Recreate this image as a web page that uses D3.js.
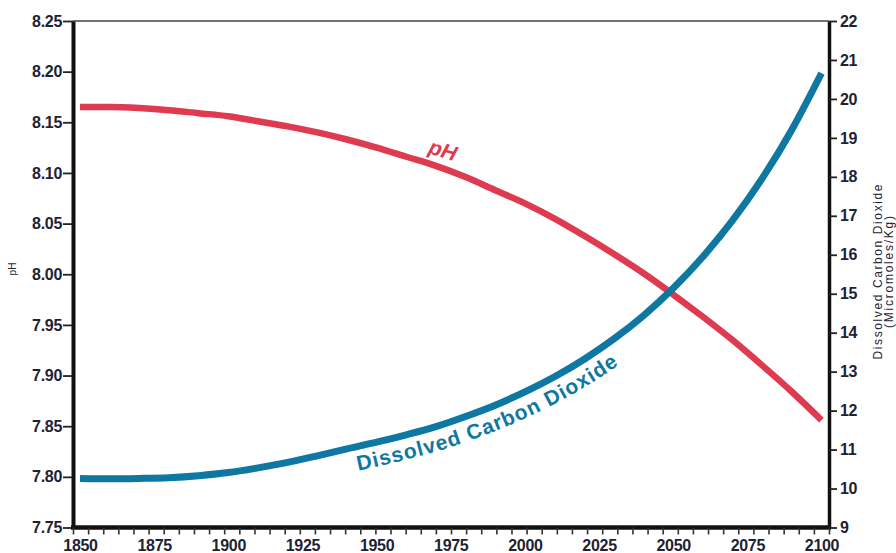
<!DOCTYPE html>
<html>
<head>
<meta charset="utf-8">
<script src="https://cdn.jsdelivr.net/npm/d3@7"></script>
<style>
  html, body { margin: 0; padding: 0; background: #fff; }
  svg { display: block; font-family: "Liberation Sans", Arial, sans-serif; }
</style>
</head>
<body>
<svg id="chart" width="896" height="553"></svg>
<script>
// Ocean surface chemistry, 1850–2100
const years = [1850, 1860, 1870, 1880, 1890, 1900, 1910, 1920, 1930, 1940, 1950, 1960, 1970,
               1980, 1990, 2000, 2010, 2020, 2030, 2040, 2050, 2060, 2070, 2080, 2090, 2100];

const phValues = [8.165, 8.165, 8.164, 8.162, 8.159, 8.156, 8.151, 8.146, 8.140, 8.133, 8.125, 8.116, 8.107,
                  8.096, 8.083, 8.070, 8.055, 8.038, 8.020, 8.001, 7.980, 7.958, 7.935, 7.910, 7.884, 7.856];

// Dissolved CO2, micromoles per kg
const co2Values = [10.26, 10.25, 10.26, 10.28, 10.33, 10.41, 10.53, 10.67, 10.84, 11.02, 11.19, 11.38, 11.59,
                   11.85, 12.14, 12.48, 12.87, 13.32, 13.84, 14.44, 15.14, 15.95, 16.88, 17.96, 19.21, 20.66];

const phTicks = [7.75, 7.80, 7.85, 7.90, 7.95, 8.00, 8.05, 8.10, 8.15, 8.20, 8.25];
const co2Ticks = [9, 10, 11, 12, 13, 14, 15, 16, 17, 18, 19, 20, 21, 22];
const yearLabels = [1850, 1875, 1900, 1925, 1950, 1975, 2000, 2025, 2050, 2075, 2100];
const yearMinorTicks = d3.range(1850, 2101, 5);

const RED = "#de3a50";
const BLUE = "#0e77a2";
const INK = "#1f2233";

const svg = d3.select("#chart");

const plot = { left: 73, right: 829, top: 21, bottom: 527.5 };

// data scale (curves and year labels) and tick-mark scale along the frame
const x = d3.scaleLinear().domain([1850, 2100]).range([80, 821.5]);
const xTick = d3.scaleLinear().domain([1850, 2100]).range([plot.left, plot.right]);
const yL = d3.scaleLinear().domain([7.75, 8.25]).range([plot.bottom, plot.top]);
const yR = d3.scaleLinear().domain([9, 22]).range([plot.bottom, plot.top]);

// top frame line
svg.append("line")
  .attr("x1", plot.left).attr("x2", plot.right)
  .attr("y1", plot.top).attr("y2", plot.top)
  .attr("stroke", "#444").attr("stroke-width", 1.6);

// left axis (pH)
const gL = svg.append("g").attr("transform", `translate(${plot.left},0)`)
  .call(d3.axisLeft(yL).tickValues(phTicks).tickFormat(d3.format(".2f"))
        .tickSize(10).tickSizeOuter(0).tickPadding(1));
gL.select(".domain").attr("stroke", "#111").attr("stroke-width", 4);
gL.selectAll(".tick line").attr("stroke", "#222").attr("stroke-width", 1.8);
gL.selectAll(".tick text").attr("fill", INK).attr("font-size", 16).attr("font-weight", "bold")
  .attr("letter-spacing", -0.3);

// right axis (dissolved CO2)
const gR = svg.append("g").attr("transform", `translate(${plot.right},0)`)
  .call(d3.axisRight(yR).tickValues(co2Ticks).tickFormat(d3.format("d"))
        .tickSize(8).tickSizeOuter(0).tickPadding(3));
gR.select(".domain").attr("stroke", "#111").attr("stroke-width", 3.5);
gR.selectAll(".tick line").attr("stroke", "#222").attr("stroke-width", 1.8);
gR.selectAll(".tick text").attr("fill", INK).attr("font-size", 16).attr("font-weight", "bold")
  .attr("letter-spacing", -0.3);

// bottom axis: tick marks every 5 years
const gB = svg.append("g").attr("transform", `translate(0,${plot.bottom})`)
  .call(d3.axisBottom(xTick).tickValues(yearMinorTicks).tickFormat("")
        .tickSize(7).tickSizeOuter(0));
gB.select(".domain").attr("stroke", "#111").attr("stroke-width", 4.5)
  .attr("d", `M${plot.left - 2},0H${plot.right + 2}`);
gB.selectAll(".tick line").attr("stroke", "#333").attr("stroke-width", 1.6);

// bottom axis: year labels
const gBL = svg.append("g").attr("transform", `translate(0,${plot.bottom})`)
  .call(d3.axisBottom(x).tickValues(yearLabels).tickFormat(d3.format("d"))
        .tickSize(0).tickPadding(12));
gBL.select(".domain").remove();
gBL.selectAll(".tick text").attr("fill", INK).attr("font-size", 16).attr("font-weight", "bold")
  .attr("letter-spacing", -0.3);

// axis titles
svg.append("text")
  .attr("transform", "translate(16,269) rotate(-90)")
  .attr("text-anchor", "middle")
  .attr("font-size", 10).attr("fill", INK)
  .text("pH");

const rt = svg.append("g").attr("transform", "translate(882,272) rotate(-90)");
rt.append("text").attr("text-anchor", "middle").attr("font-size", 12).attr("fill", INK)
  .attr("textLength", 175).attr("lengthAdjust", "spacing")
  .text("Dissolved Carbon Dioxide");
rt.append("text").attr("y", 11).attr("text-anchor", "middle").attr("font-size", 12).attr("fill", INK)
  .attr("textLength", 112).attr("lengthAdjust", "spacing")
  .text("(Micromoles/Kg)");

// curves
const phData = years.map((yr, i) => ({ year: yr, v: phValues[i] }));
const co2Data = years.map((yr, i) => ({ year: yr, v: co2Values[i] }));

const phLine = d3.line().x(d => x(d.year)).y(d => yL(d.v)).curve(d3.curveMonotoneX);
const co2Line = d3.line().x(d => x(d.year)).y(d => yR(d.v)).curve(d3.curveMonotoneX);

svg.append("path").datum(phData)
  .attr("d", phLine)
  .attr("fill", "none").attr("stroke", RED).attr("stroke-width", 6.5);

svg.append("path").datum(co2Data)
  .attr("d", co2Line)
  .attr("fill", "none").attr("stroke", BLUE).attr("stroke-width", 7);

// in-plot label for the pH curve
svg.append("text")
  .attr("transform", `translate(${x(1972.4)},${yL(8.1227)}) rotate(17)`)
  .attr("text-anchor", "middle")
  .attr("dy", "0.35em")
  .attr("font-size", 21).attr("font-weight", "bold").attr("font-style", "italic")
  .attr("fill", RED)
  .text("pH");

// label riding under the CO2 curve: offset the curve perpendicular to itself
const pts = co2Data.map(d => [x(d.year), yR(d.v)]);
const offset = 24;
const offsetPts = pts.map((p, i) => {
  const a = pts[Math.max(0, i - 1)], b = pts[Math.min(pts.length - 1, i + 1)];
  const dx = b[0] - a[0], dy = b[1] - a[1];
  const len = Math.hypot(dx, dy);
  // normal pointing below-right of the rising curve
  return [p[0] - dy / len * offset, p[1] + dx / len * offset];
});
const labelPath = svg.append("path")
  .attr("id", "co2LabelPath")
  .attr("d", d3.line().curve(d3.curveMonotoneX)(offsetPts))
  .attr("fill", "none").attr("stroke", "none");

const node = labelPath.node();
const total = node.getTotalLength();
let start = 0;
for (let s = 0; s <= total; s += 0.5) {
  if (node.getPointAtLength(s).x >= 358) { start = s; break; }
}

svg.append("text")
  .attr("font-size", 21).attr("font-weight", "bold").attr("fill", BLUE)
  .attr("letter-spacing", 1)
  .append("textPath")
  .attr("href", "#co2LabelPath")
  .attr("startOffset", start)
  .text("Dissolved Carbon Dioxide");
</script>
</body>
</html>
